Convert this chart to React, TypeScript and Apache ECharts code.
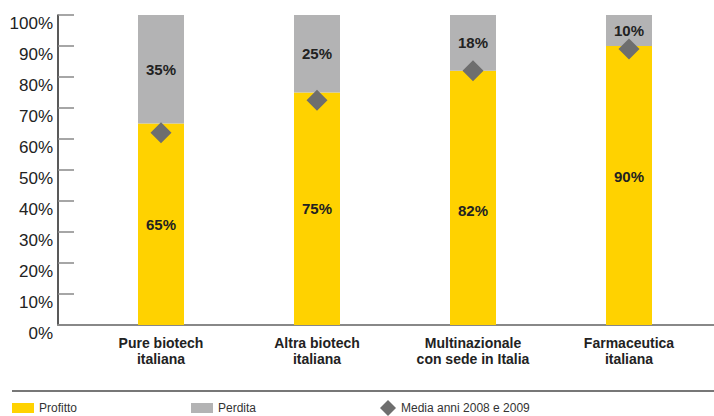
import React, { useEffect, useRef } from "react";
import * as echarts from "echarts";

const categories = [
  "Pure biotech\nitaliana",
  "Altra biotech\nitaliana",
  "Multinazionale\ncon sede in Italia",
  "Farmaceutica\nitaliana",
];
const profitto = [65, 75, 82, 90];
const perdita = [35, 25, 18, 10];
const media = [62, 72.5, 82, 89];
const seriesNames = ["Profitto", "Perdita", "Media anni 2008 e 2009"];

// label vertical nudges (style only)
const profittoLabelOffsets = [0, 0, 13, -9];

const YELLOW = "#FFD200";
const GREY = "#B3B3B4";
const DIAMOND = "#6E6E6E";
const TEXT = "#222222";
const FONT = "'Liberation Sans', Arial, sans-serif";

export default function App() {
  const ref = useRef<HTMLDivElement>(null);
  useEffect(() => {
    if (!ref.current) return;
    const chart = echarts.init(ref.current, null, { renderer: "svg" });
    const legendText = { fontSize: 12, color: "#333", fontFamily: FONT };
    chart.setOption({
      animation: false,
      textStyle: { fontFamily: FONT },
      grid: [
        { left: 58, right: 0, top: 15, bottom: 91 },
        { left: 83, right: 7, top: 15, bottom: 91 },
      ],
      xAxis: [
        {
          gridIndex: 0,
          type: "value",
          min: 0,
          max: 1,
          axisLine: { show: true, lineStyle: { color: "#888", width: 2 } },
          axisTick: { show: false },
          axisLabel: { show: false },
          splitLine: { show: false },
        },
        {
          gridIndex: 1,
          type: "category",
          data: categories,
          axisLine: { show: false },
          axisTick: { show: false },
          axisLabel: {
            fontSize: 14,
            fontWeight: "bold",
            color: TEXT,
            lineHeight: 16,
            margin: 10,
            fontFamily: FONT,
          },
        },
      ],
      yAxis: [
        {
          gridIndex: 0,
          type: "value",
          min: 0,
          max: 100,
          interval: 10,
          axisLine: { show: true, lineStyle: { color: "#222", width: 1.5 } },
          axisTick: {
            show: true,
            inside: true,
            length: 16,
            lineStyle: { color: "#888", width: 1.5 },
          },
          axisLabel: {
            formatter: "{value}%",
            fontSize: 17,
            color: TEXT,
            margin: 5,
            verticalAlign: "top",
            fontFamily: FONT,
          },
          splitLine: { show: false },
        },
        {
          gridIndex: 1,
          type: "value",
          min: 0,
          max: 100,
          show: false,
        },
      ],
      legend: [
        {
          left: 12,
          top: 402,
          padding: 0,
          data: [{ name: seriesNames[0], icon: "rect" }],
          itemWidth: 22,
          itemHeight: 10,
          itemGap: 0,
          textStyle: legendText,
        },
        {
          left: 191,
          top: 402,
          padding: 0,
          data: [{ name: seriesNames[1], icon: "rect" }],
          itemWidth: 22,
          itemHeight: 10,
          itemGap: 0,
          textStyle: legendText,
        },
        {
          left: 380,
          top: 400,
          padding: 0,
          data: [{ name: seriesNames[2], icon: "diamond" }],
          itemWidth: 16,
          itemHeight: 16,
          itemGap: 0,
          textStyle: legendText,
        },
      ],
      graphic: [
        {
          type: "line",
          shape: { x1: 12, y1: 391, x2: 714, y2: 391 },
          style: { stroke: "#777", lineWidth: 2 },
          silent: true,
        },
      ],
      series: [
        {
          name: seriesNames[0],
          type: "bar",
          xAxisIndex: 1,
          yAxisIndex: 1,
          stack: "total",
          barWidth: 46,
          itemStyle: { color: YELLOW },
          data: profitto.map((v, i) => ({
            value: v,
            label: { offset: [0, profittoLabelOffsets[i]] },
          })),
          label: {
            show: true,
            position: "inside",
            formatter: "{c}%",
            fontSize: 15,
            fontWeight: "bold",
            color: TEXT,
            fontFamily: FONT,
          },
        },
        {
          name: seriesNames[1],
          type: "bar",
          xAxisIndex: 1,
          yAxisIndex: 1,
          stack: "total",
          barWidth: 46,
          itemStyle: { color: GREY },
          data: perdita,
          label: {
            show: true,
            position: "inside",
            formatter: "{c}%",
            fontSize: 15,
            fontWeight: "bold",
            color: TEXT,
            fontFamily: FONT,
          },
        },
        {
          name: seriesNames[2],
          type: "scatter",
          xAxisIndex: 1,
          yAxisIndex: 1,
          symbol: "diamond",
          symbolSize: 21,
          itemStyle: { color: DIAMOND, opacity: 1 },
          z: 5,
          data: media,
        },
      ],
    });
    return () => chart.dispose();
  }, []);
  return (
    <div
      ref={ref}
      style={{ position: "fixed", left: 0, top: 0, width: 714, height: 416, background: "#fff" }}
    />
  );
}
